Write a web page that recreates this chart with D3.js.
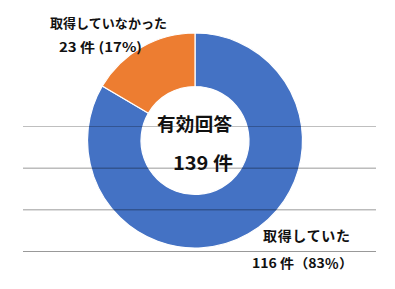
<!DOCTYPE html>
<html><head><meta charset="utf-8">
<script src="https://cdn.jsdelivr.net/npm/d3@7"></script>
<style>html,body{margin:0;padding:0;background:#fff;}svg{display:block;}</style>
</head><body>
<script>
const categories = ["取得していた", "取得していなかった"];
const values = [116, 23];
const percents = [83, 17];
const colors = ["#4472C4", "#ED7D31"];
const totalLabel = "有効回答";
const gridRows = [0, 1, 2, 3];

const W = 395, H = 289;
const svg = d3.select("body").append("svg").attr("width", W).attr("height", H);
const cx = 195, cy = 140.5, rOuter = 107.5, rInner = 54;

const pie = d3.pie().sort(null).value(d => d)(values);
const arc = d3.arc().innerRadius(rInner).outerRadius(rOuter);
const g = svg.append("g").attr("transform", `translate(${cx},${cy})`);
g.selectAll("path").data(pie).join("path")
  .attr("d", arc)
  .attr("fill", (d, i) => colors[i])
  .attr("stroke", "#fff").attr("stroke-width", 1.2);

// horizontal lines over the chart
const y = d3.scaleLinear().domain([0, 3]).range([126.5, 251.5]);
svg.selectAll("line.grid").data(gridRows).join("line")
  .attr("x1", 23).attr("x2", 376)
  .attr("y1", d => y(d)).attr("y2", d => y(d))
  .attr("stroke", "#000")
  .attr("stroke-opacity", (d, i) => i === 0 ? 0.25 : 0.4)
  .attr("stroke-width", 1);

const font = "'Noto Sans CJK JP', 'Noto Sans', sans-serif";
const total = d3.sum(values);

function label(x, yy, size, len, txt, adj) {
  svg.append("text").attr("x", x).attr("y", yy)
    .attr("font-family", font).attr("font-weight", "bold").attr("font-size", size)
    .attr("fill", "#111").attr("textLength", len)
    .attr("lengthAdjust", adj || "spacing").text(txt);
}

label(157, 131, 18.5, 75, totalLabel);
label(173, 170, 18.5, 60, `${total} 件`, "spacingAndGlyphs");

label(50, 28, 13, 117, categories[1]);
label(59, 52, 13, 83, `${values[1]} 件  (${percents[1]}%)`, "spacingAndGlyphs");

label(263, 241, 14, 87, categories[0]);
label(252, 268, 13, 101, `${values[0]} 件（${percents[0]}％）`, "spacingAndGlyphs");
</script>
</body></html>
